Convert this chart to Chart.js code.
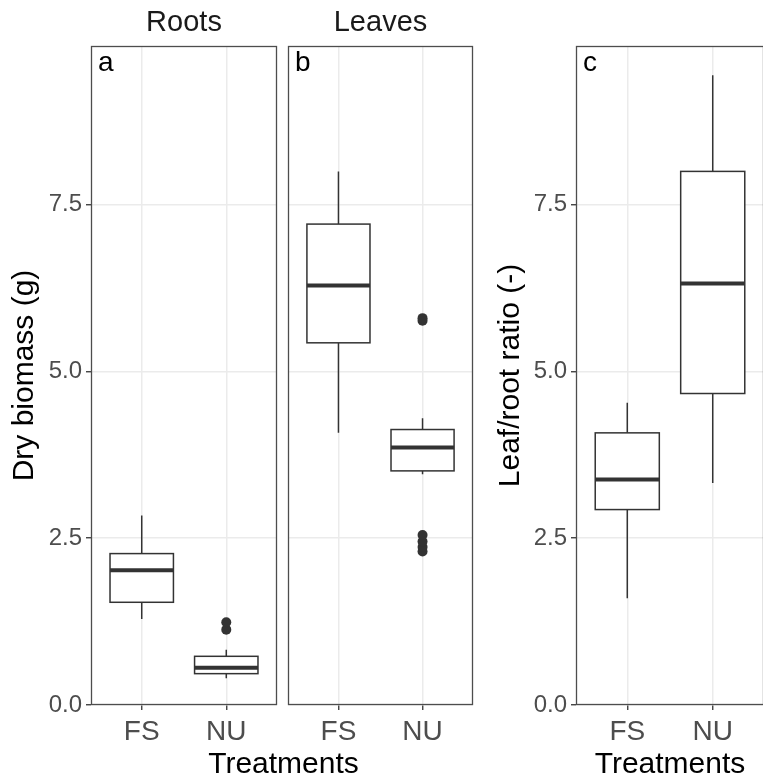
<!DOCTYPE html>
<html>
<head>
<meta charset="utf-8">
<script src="https://cdn.jsdelivr.net/npm/chart.js@4.4.0/dist/chart.umd.min.js"></script>
<style>
html, body { margin: 0; padding: 0; background: #fff; }
#wrap { position: relative; width: 763px; height: 777px; overflow: hidden; }
#wrap canvas { position: absolute; top: 0; }
</style>
</head>
<body>
<div id="wrap">
  <canvas id="roots" width="282" height="777" style="left:0px"></canvas>
  <canvas id="leaves" width="387" height="777" style="left:91px"></canvas>
  <canvas id="ratio" width="296" height="777" style="left:470px"></canvas>
</div>
<script>
var FONT = "'Liberation Sans', Arial, Helvetica, sans-serif";
Chart.defaults.font.family = FONT;

var treatments = ["FS", "NU"];
var yTicks = [0, 2.5, 5, 7.5];
var yMax = 9.88;

// one row per treatment: [lower whisker, Q1, median, Q3, upper whisker]
var rootsBox = [[1.29, 1.54, 2.02, 2.27, 2.84], [0.40, 0.47, 0.56, 0.73, 0.83]];
var rootsOut = [[], [1.13, 1.24]];

var leavesBox = [[4.08, 5.43, 6.29, 7.21, 8.00], [3.46, 3.51, 3.86, 4.13, 4.30]];
var leavesOut = [[], [2.30, 2.37, 2.45, 2.55, 5.76, 5.80]];

var ratioBox = [[1.60, 2.93, 3.38, 4.08, 4.53], [3.33, 4.67, 6.32, 8.00, 9.44]];
var ratioOut = [[], []];

// boxes + panel frame + panel letter
function boxPlot(stats, tag) {
  return {
    id: 'boxplot',
    beforeDatasetsDraw: function (chart) {
      var ctx = chart.ctx, xs = chart.scales.x, ys = chart.scales.y;
      ctx.save();
      ctx.strokeStyle = '#333333';
      stats.forEach(function (s, i) {
        var cx = xs.getPixelForValue(i + 1);
        var l = xs.getPixelForValue(i + 1 - 0.375);
        var r = xs.getPixelForValue(i + 1 + 0.375);
        var p = s.map(function (v) { return ys.getPixelForValue(v); });
        ctx.lineWidth = 1.5;
        ctx.beginPath();
        ctx.moveTo(cx, p[0]); ctx.lineTo(cx, p[1]);
        ctx.moveTo(cx, p[3]); ctx.lineTo(cx, p[4]);
        ctx.stroke();
        ctx.fillStyle = '#ffffff';
        ctx.fillRect(l, p[3], r - l, p[1] - p[3]);
        ctx.strokeRect(l, p[3], r - l, p[1] - p[3]);
        ctx.lineWidth = 4;
        ctx.beginPath();
        ctx.moveTo(l, p[2]); ctx.lineTo(r, p[2]);
        ctx.stroke();
      });
      ctx.restore();
    },
    afterDraw: function (chart) {
      var ctx = chart.ctx, a = chart.chartArea;
      ctx.save();
      ctx.strokeStyle = '#4d4d4d';
      ctx.lineWidth = 1.3;
      ctx.strokeRect(a.left + 0.5, a.top + 0.5, a.right - a.left - 1, a.bottom - a.top - 1);
      ctx.fillStyle = '#000000';
      ctx.font = '28px ' + FONT;
      ctx.textBaseline = 'alphabetic';
      ctx.fillText(tag, a.left + 7, a.top + 25);
      ctx.restore();
    }
  };
}

function makePanel(id, o) {
  var pts = [];
  o.out.forEach(function (vals, i) {
    vals.forEach(function (v) { pts.push({ x: i + 1, y: v }); });
  });
  var showY = !!o.yTitle;
  return new Chart(document.getElementById(id), {
    type: 'scatter',
    data: {
      datasets: [{
        data: pts,
        pointRadius: 5,
        pointHoverRadius: 5,
        backgroundColor: '#333333',
        borderWidth: 0
      }]
    },
    options: {
      responsive: false,
      animation: false,
      events: [],
      layout: { padding: { left: 0, right: o.padRight, top: 0, bottom: 0 } },
      plugins: {
        legend: { display: false },
        tooltip: { enabled: false },
        title: {
          display: !!o.bottomTitle,
          text: o.bottomTitle || '',
          position: 'bottom',
          color: '#000000',
          font: { size: 30, weight: 'normal', lineHeight: 0.8 },
          padding: 0
        }
      },
      scales: {
        x: {
          type: 'linear',
          min: 0.4,
          max: 2.6,
          afterBuildTicks: function (s) {
            s.ticks = treatments.map(function (t, i) { return { value: i + 1 }; });
          },
          afterFit: function (s) { s.height = o.xHeight; },
          ticks: {
            callback: function (v) { return treatments[v - 1]; },
            color: '#4d4d4d',
            font: { size: 28 },
            padding: 5,
            maxRotation: 0,
            autoSkip: false
          },
          grid: { color: '#ebebeb', lineWidth: 1.5, tickColor: '#333333', tickWidth: 1.3, tickLength: 5 },
          border: { display: false },
          title: {
            display: !!o.xTitle,
            text: o.xTitle || '',
            color: '#000000',
            font: { size: 30, lineHeight: 0.8 },
            padding: 0
          }
        },
        strip: {
          type: 'linear',
          axis: 'x',
          position: 'top',
          min: 0.4,
          max: 2.6,
          afterFit: function (s) { s.height = 46; },
          ticks: { display: false },
          grid: { display: false, drawTicks: false },
          border: { display: false },
          title: {
            display: !!o.strip,
            text: o.strip || '',
            color: '#1a1a1a',
            font: { size: 29 },
            padding: { top: 6, bottom: 0 }
          }
        },
        y: {
          min: 0,
          max: yMax,
          afterBuildTicks: function (s) {
            s.ticks = yTicks.map(function (v) { return { value: v }; });
          },
          afterFit: function (s) { s.width = o.yWidth; },
          ticks: {
            display: showY,
            callback: function (v) { return v.toFixed(1); },
            color: '#4d4d4d',
            font: { size: 24 },
            padding: 4
          },
          grid: { color: '#ebebeb', lineWidth: 1.5, tickColor: '#333333', tickWidth: 1.3, tickLength: 5, drawTicks: showY },
          border: { display: false },
          title: {
            display: showY,
            text: o.yTitle || '',
            color: '#000000',
            font: { size: 30 },
            padding: { top: o.yTitlePad || 0, bottom: 0 }
          }
        }
      }
    },
    plugins: [boxPlot(o.box, o.tag)]
  });
}

makePanel('roots', {
  box: rootsBox, out: rootsOut, tag: 'a', strip: 'Roots',
  yTitle: 'Dry biomass (g)', yTitlePad: 7, yWidth: 91, xHeight: 72, padRight: 3
});
makePanel('leaves', {
  box: leavesBox, out: leavesOut, tag: 'b', strip: 'Leaves',
  bottomTitle: 'Treatments', yWidth: 197, xHeight: 48, padRight: 2
});
makePanel('ratio', {
  box: ratioBox, out: ratioOut, tag: 'c',
  yTitle: 'Leaf/root ratio (-)', yTitlePad: 23, xTitle: 'Treatments',
  yWidth: 106, xHeight: 72, padRight: 2
});
</script>
</body>
</html>
